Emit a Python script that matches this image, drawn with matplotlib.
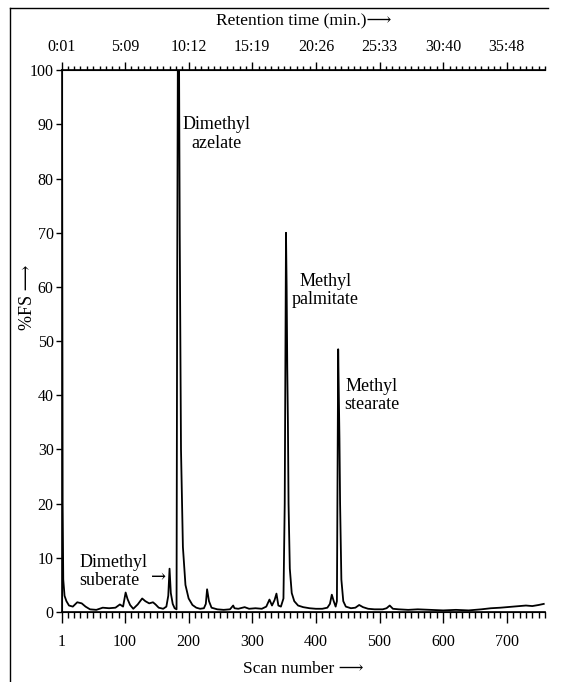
import matplotlib
matplotlib.use("Agg")
import matplotlib.pyplot as plt
from matplotlib.lines import Line2D
from matplotlib.ticker import MultipleLocator

plt.rcParams['font.family'] = ['Liberation Serif', 'DejaVu Serif', 'DejaVu Sans']

# trace (scan number, %FS)
scans = [1, 2, 3, 5, 8, 12, 18, 25, 32, 38, 45, 55, 65, 75, 85, 92, 97, 101, 104, 108,
         113, 120, 127, 132, 138, 144, 148, 153, 160, 165, 168, 170, 172, 175, 178, 181,
         182, 183, 185, 186, 188, 191, 195, 200, 206, 212, 218, 224, 227, 229, 232, 236,
         245, 255, 265, 270, 272, 278, 288, 295, 305, 315, 322, 327, 331, 335, 338, 341,
         345, 349, 351, 353, 354, 355, 356, 357, 359, 362, 366, 372, 380, 390, 400, 410,
         418, 422, 425, 428, 431, 433, 434, 435, 436, 437, 438, 440, 443, 447, 455, 462,
         468, 474, 482, 492, 505, 511, 516, 521, 530, 545, 560, 580, 600, 620, 640, 660,
         675, 690, 700, 710, 720, 730, 740, 750, 758]
intensity = [100, 20, 6, 3, 2, 1.2, 1.0, 1.8, 1.6, 1.0, 0.5, 0.4, 0.8, 0.7, 0.8, 1.4, 1.0, 3.6, 2.4, 1.3,
             0.6, 1.4, 2.5, 2.0, 1.6, 1.8, 1.4, 0.8, 0.6, 1.0, 3.0, 8.0, 3.5, 1.5, 0.7, 0.5,
             60, 100, 100, 70, 30, 12, 5, 2.5, 1.3, 0.8, 0.6, 0.7, 1.5, 4.2, 2.0, 0.8,
             0.5, 0.4, 0.5, 1.2, 0.7, 0.6, 0.9, 0.6, 0.7, 0.6, 1.0, 2.3, 1.2, 2.2, 3.4, 1.2,
             1.0, 2.5, 20, 70, 60, 45, 35, 20, 8, 3.5, 2.0, 1.2, 0.9, 0.7, 0.6, 0.6,
             0.8, 1.5, 3.2, 2.0, 1.0, 2.0, 25, 48.5, 40, 32, 20, 6, 2.0, 1.0, 0.7, 0.8,
             1.3, 0.9, 0.6, 0.5, 0.5, 0.7, 1.2, 0.6, 0.5, 0.4, 0.5, 0.4, 0.3, 0.4, 0.3, 0.5,
             0.7, 0.8, 0.9, 1.0, 1.1, 1.2, 1.1, 1.3, 1.5]

scan_ticks = [1, 100, 200, 300, 400, 500, 600, 700]
time_labels = ["0:01", "5:09", "10:12", "15:19", "20:26", "25:33", "30:40", "35:48"]
y_ticks = [0, 10, 20, 30, 40, 50, 60, 70, 80, 90, 100]

peak_names = ["Dimethyl\nazelate", "Methyl\npalmitate", "Methyl\nstearate", "Dimethyl\nsuberate"]
label_pos = [(190, 91.5), (362, 62.6), (444, 43.2), (28, 10.8)]

fig = plt.figure(figsize=(5.61, 6.82), dpi=100)
ax = fig.add_axes([0.1105, 0.1026, 0.861, 0.7944])

ax.plot(scans, intensity, color="black", lw=1.3)
ax.set_xlim(1, 760)
ax.set_ylim(0, 100)

ax.spines["right"].set_visible(False)
for s in ["left", "bottom", "top"]:
    ax.spines[s].set_linewidth(1.2)

ax.set_xticks(scan_ticks)
ax.xaxis.set_minor_locator(MultipleLocator(10))
ax.tick_params(axis="x", which="major", direction="out", length=8, width=1, labelsize=11.5, pad=8)
ax.tick_params(axis="x", which="minor", direction="out", length=4, width=1)
ax.set_yticks(y_ticks)
ax.tick_params(axis="y", direction="out", length=4, width=1, labelsize=11.5, pad=2)
ax.set_xlabel("Scan number \u27f6", fontsize=12.5, labelpad=8)
ax.set_ylabel("%FS \u27f6", fontsize=13)
ax.yaxis.set_label_coords(-0.054, 0.58)

top = ax.twiny()
top.set_xlim(ax.get_xlim())
top.spines["right"].set_visible(False)
top.set_xticks(scan_ticks)
top.set_xticklabels(time_labels)
top.xaxis.set_minor_locator(MultipleLocator(10))
top.tick_params(axis="x", which="major", direction="out", length=6, width=1, labelsize=11.5, pad=5)
top.tick_params(axis="x", which="minor", direction="out", length=3, width=1)
top.set_xlabel("Retention time (min.)\u27f6", fontsize=12.5, labelpad=10)

for name, (x, y) in zip(peak_names, label_pos):
    ax.text(x, y, name, fontsize=13, ha="left", va="top",
            multialignment="left" if "suberate" in name else "center", linespacing=1.1)

# arrow pointing at the suberate peak
ax.text(165, 6.4, "\u2192", fontsize=13, ha="right", va="center", family=["DejaVu Serif"])

# frame around the figure (left and top only, like the scan)
fig.add_artist(Line2D([0.018, 0.018], [0.0, 0.988], color="black", lw=1))
fig.add_artist(Line2D([0.018, 0.977], [0.988, 0.988], color="black", lw=1))

fig.savefig("out.png", dpi=100)
